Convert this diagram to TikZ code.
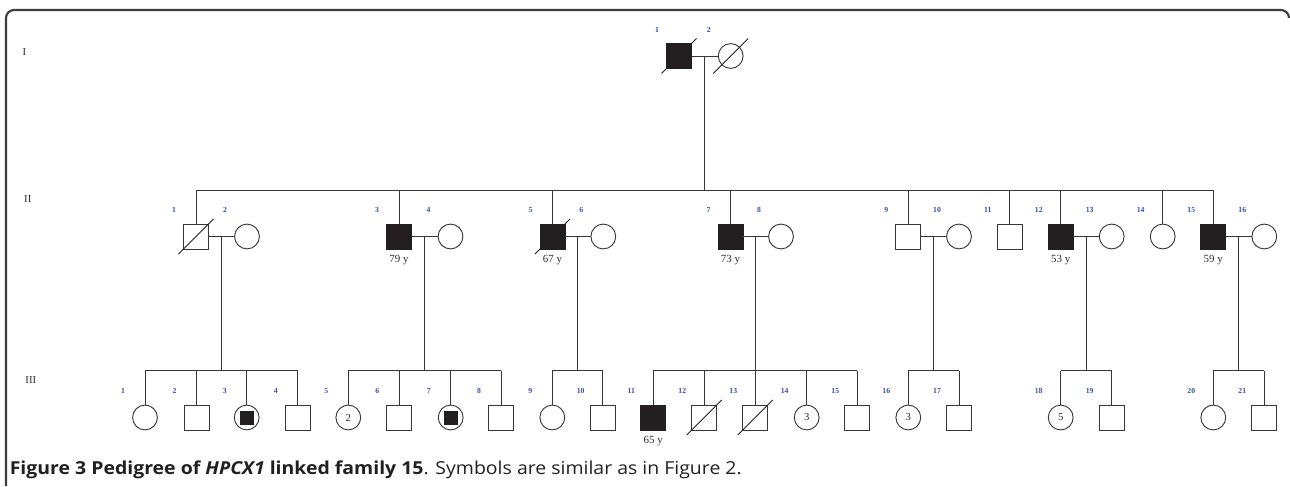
\documentclass[tikz,border=0pt]{standalone}
\usepackage{fontspec}
\setmainfont{Liberation Serif}
\newfontfamily\capfont{Open Sans}
\usetikzlibrary{calc}
\definecolor{pline}{RGB}{55,55,55}
\definecolor{pfill}{RGB}{35,31,32}
\definecolor{pblue}{RGB}{55,80,165}
\definecolor{ptext}{RGB}{45,45,45}
\definecolor{frm}{RGB}{60,60,60}
\begin{document}
\begin{tikzpicture}[x=0.75pt,y=-0.75pt,line width=0.7pt,
  lin/.style={draw=pline,line width=0.7pt},
  sq/.style={draw=pline,rectangle,minimum size=18.75pt,inner sep=0pt,outer sep=0pt,fill=white},
  ci/.style={draw=pline,circle,minimum size=18.6pt,inner sep=0pt,outer sep=0pt,fill=white,text=ptext,font=\fontsize{8}{9}\selectfont},
  aff/.style={fill=pfill,draw=pfill},
  inner/.style={rectangle,fill=pfill,draw=pfill,minimum size=9.75pt,inner sep=0pt},
  num/.style={inner sep=0pt,text=pblue,font=\fontsize{5.8}{6}\selectfont\bfseries},
  age/.style={inner sep=0pt,text=ptext,font=\fontsize{8.2}{9}\selectfont},
  gen/.style={inner sep=0pt,text=ptext,font=\fontsize{8}{9}\selectfont},
  slash/.style={draw=pfill,line width=0.7pt}]
\useasboundingbox (0,0) rectangle (1290,486);
% frame
\draw[frm,line width=1.6pt,rounded corners=6pt] (6,486) -- (6,10) -- (1289,10) -- (1289,18);
% generation labels
\node[gen] (gI) at (24.3,52) {I};
\node[gen] (gII) at (27.8,199) {II};
\node[gen] (gIII) at (30.8,380) {III};
% generation I
\node[sq,aff] (I1) at (679,56) {};
\node[ci] (I2) at (730.7,56) {};
% generation II
\node[sq] (II1) at (196,236.5) {};
\node[ci] (II2) at (247,236.5) {};
\node[sq,aff] (II3) at (399,236.5) {};
\node[ci] (II4) at (450.5,236.5) {};
\node[sq,aff] (II5) at (552.5,236.5) {};
\node[ci] (II6) at (603.3,236.5) {};
\node[sq,aff] (II7) at (730.5,236.5) {};
\node[ci] (II8) at (781,236.5) {};
\node[sq] (II9) at (908.3,236.5) {};
\node[ci] (II10) at (959,236.5) {};
\node[sq] (II11) at (1009.8,236.5) {};
\node[sq,aff] (II12) at (1060.8,236.5) {};
\node[ci] (II13) at (1111.7,236.5) {};
\node[ci] (II14) at (1162.7,236.5) {};
\node[sq,aff] (II15) at (1213.3,236.5) {};
\node[ci] (II16) at (1264.3,236.5) {};
% generation III
\node[ci] (III1) at (145,417.5) {};
\node[sq] (III2) at (196.5,417.5) {};
\node[ci] (III3) at (246.7,417.5) {};
\node[inner] (III3i) at (III3.center) {};
\node[sq] (III4) at (297.7,417.5) {};
\node[ci] (III5) at (348.3,417.5) {2};
\node[sq] (III6) at (399.3,417.5) {};
\node[ci] (III7) at (450.7,417.5) {};
\node[inner] (III7i) at (III7.center) {};
\node[sq] (III8) at (501,417.5) {};
\node[ci] (III9) at (552.3,417.5) {};
\node[sq] (III10) at (602.7,417.5) {};
\node[sq,aff] (III11) at (653.3,417.5) {};
\node[sq] (III12) at (704.3,417.5) {};
\node[sq] (III13) at (755.3,417.5) {};
\node[ci] (III14) at (806.7,417.5) {3};
\node[sq] (III15) at (857.3,417.5) {};
\node[ci] (III16) at (908.3,417.5) {3};
\node[sq] (III17) at (959,417.5) {};
\node[ci] (III18) at (1060.7,417.5) {5};
\node[sq] (III19) at (1111.7,417.5) {};
\node[ci] (III20) at (1213.3,417.5) {};
\node[sq] (III21) at (1264.3,417.5) {};
% deceased slashes
\foreach \n in {I1,I2,II1,II5,III12,III13}
  \draw[slash] ($(\n.center)+(-17.5,17.5)$) -- ($(\n.center)+(17.5,-17.5)$);
% individual numbers
\foreach \n/\l in {I1/1,I2/2,II1/1,II2/2,II3/3,II4/4,II5/5,II6/6,II7/7,II8/8,II9/9,II10/10,II11/11,II12/12,II13/13,II14/14,II15/15,II16/16,
  III1/1,III2/2,III3/3,III4/4,III5/5,III6/6,III7/7,III8/8,III9/9,III10/10,III11/11,III12/12,III13/13,III14/14,III15/15,III16/16,III17/17,III18/18,III19/19,III20/20,III21/21}
  \node[num] (n\n) at ($(\n.center)+(-22,-26.5)$) {\l};
% ages
\foreach \n/\l in {II3/79,II5/67,II7/73,II12/53,II15/59,III11/65}
  \node[age] (a\n) at ($(\n.center)+(0,23.5)$) {\l\ y};
% marriages and descent
\foreach \a/\b/\m in {I1/I2/mI,II1/II2/mA,II3/II4/mB,II5/II6/mC,II7/II8/mD,II9/II10/mE,II12/II13/mF,II15/II16/mG}{
  \draw[lin] (\a) -- (\b);
  \coordinate (\m) at ($(\a.east)!0.5!(\b.west)$);
}
% sibship of generation II
\coordinate (sI) at (mI |- 0,190);
\draw[lin] (mI) -- (sI);
\draw[lin] (II1.north |- sI) -- (II15.north |- sI);
\foreach \c in {II1,II3,II5,II7,II9,II11,II12,II14,II15}
  \draw[lin] (\c.north) -- (\c.north |- sI);
% sibships of generation III
\foreach \m/\f/\l/\kids in {mA/III1/III4/{III1,III2,III3,III4},mB/III5/III8/{III5,III6,III7,III8},mC/III9/III10/{III9,III10},
  mD/III11/III15/{III11,III12,III13,III14,III15},mE/III16/III17/{III16,III17},mF/III18/III19/{III18,III19},mG/III20/III21/{III20,III21}}{
  \coordinate (s\m) at (\m |- 0,370.7);
  \draw[lin] (\m) -- (s\m);
  \draw[lin] (\f.north |- s\m) -- (\l.north |- s\m);
  \foreach \c in \kids \draw[lin] (\c.north) -- (\c.north |- s\m);
}
% caption
\node[anchor=base west,inner sep=0pt,text=pfill,font=\capfont\fontsize{13.4}{15}\selectfont] (cap) at (9.3,474.3)
  {\scalebox{1.089}[1]{\textbf{Figure 3 Pedigree of \textit{HPCX1} linked family 15}. Symbols are similar as in Figure 2.}};
\end{tikzpicture}
\end{document}
